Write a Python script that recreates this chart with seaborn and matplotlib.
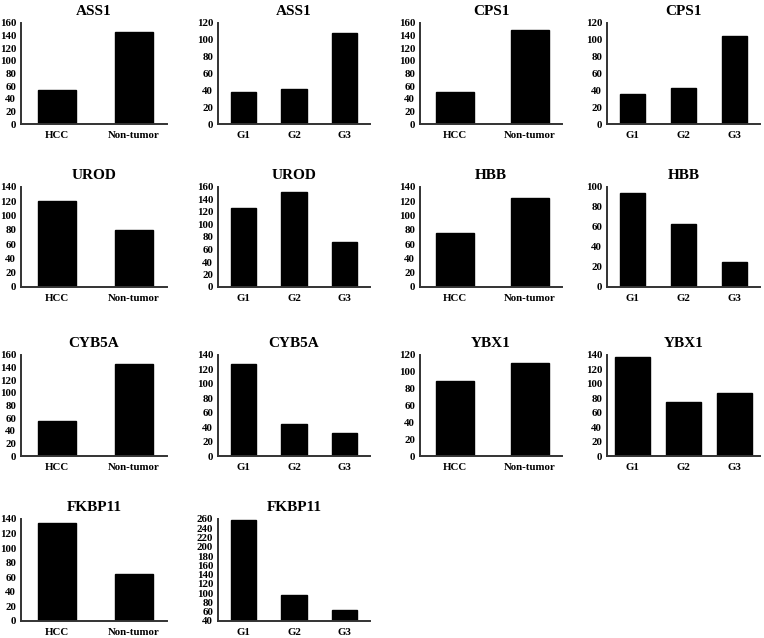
import matplotlib
matplotlib.use("Agg")
import matplotlib.pyplot as plt
import seaborn as sns
import pandas as pd

# chart data
genes = ["ASS1", "CPS1", "UROD", "HBB", "CYB5A", "YBX1", "FKBP11"]
tissue_labels = ["HCC", "Non-tumor"]
grade_labels = ["G1", "G2", "G3"]

ass1_tissue = [54, 146]
ass1_grade = [38, 41, 108]
cps1_tissue = [51, 149]
cps1_grade = [36, 43, 105]
urod_tissue = [120, 80]
urod_grade = [127, 152, 72]
hbb_tissue = [76, 124]
hbb_grade = [94, 63, 25]
cyb5a_tissue = [55, 145]
cyb5a_grade = [128, 44, 32]
ybx1_tissue = [89, 111]
ybx1_grade = [137, 75, 87]
fkbp11_tissue = [134, 65]
fkbp11_grade = [258, 96, 63]

# y-axis ranges (min, max, step) per panel
ylims = {
    ("ASS1", "t"): (0, 160, 20), ("ASS1", "g"): (0, 120, 20),
    ("CPS1", "t"): (0, 160, 20), ("CPS1", "g"): (0, 120, 20),
    ("UROD", "t"): (0, 140, 20), ("UROD", "g"): (0, 160, 20),
    ("HBB", "t"): (0, 140, 20), ("HBB", "g"): (0, 100, 20),
    ("CYB5A", "t"): (0, 160, 20), ("CYB5A", "g"): (0, 140, 20),
    ("YBX1", "t"): (0, 120, 20), ("YBX1", "g"): (0, 140, 20),
    ("FKBP11", "t"): (0, 140, 20), ("FKBP11", "g"): (40, 260, 20),
}

values = {
    "ASS1": (ass1_tissue, ass1_grade),
    "CPS1": (cps1_tissue, cps1_grade),
    "UROD": (urod_tissue, urod_grade),
    "HBB": (hbb_tissue, hbb_grade),
    "CYB5A": (cyb5a_tissue, cyb5a_grade),
    "YBX1": (ybx1_tissue, ybx1_grade),
    "FKBP11": (fkbp11_tissue, fkbp11_grade),
}

sns.set_style("white")
plt.rcParams["font.family"] = ["Liberation Serif", "DejaVu Serif"]
plt.rcParams["font.weight"] = "bold"
plt.rcParams["text.color"] = "black"

W, H = 764, 638
fig = plt.figure(figsize=(W / 100, H / 100), dpi=100)

# axes boxes in pixels: column x-ranges, row y-ranges
col_x = [(21, 167), (218, 370), (420, 562), (607, 760)]
row_y = [(23, 124), (187, 287), (355, 456), (519, 621)]

def draw_panel(ax, labels, vals, lim, title, width):
    df = pd.DataFrame({"group": labels, "value": vals})
    sns.barplot(data=df, x="group", y="value", color="black", width=width,
                saturation=1, edgecolor="black", ax=ax)
    lo, hi, step = lim
    ax.set_ylim(lo, hi)
    ax.set_yticks(range(lo, hi + 1, step))
    n = len(labels)
    if n == 2:
        ax.set_xlim(-0.47, 1.43)
    else:
        ax.set_xlim(-0.5, 2.5)
    ax.set_xlabel("")
    ax.set_ylabel("")
    ax.set_title(title, fontsize=11, fontweight="bold", pad=6, color="black")
    for s in ["top", "right"]:
        ax.spines[s].set_visible(False)
    for s in ["left", "bottom"]:
        ax.spines[s].set_color("#333333")
        ax.spines[s].set_linewidth(1.4)
    ax.tick_params(axis="y", length=3, width=1.2, pad=0.5, labelsize=7.8, colors="black")
    ax.tick_params(axis="x", length=0, pad=5, labelsize=7.8, colors="black")
    for lab in ax.get_xticklabels() + ax.get_yticklabels():
        lab.set_fontweight("bold")

for i, gene in enumerate(genes):
    row = i // 2
    col0 = (i % 2) * 2
    tissue, grade = values[gene]
    for k, (labels, vals, key) in enumerate([(tissue_labels, tissue, "t"),
                                             (grade_labels, grade, "g")]):
        x0, x1 = col_x[col0 + k]
        y0, y1 = row_y[row]
        ax = fig.add_axes([x0 / W, 1 - y1 / H, (x1 - x0) / W, (y1 - y0) / H])
        width = 0.68 if (gene == "YBX1" and key == "g") else 0.5
        draw_panel(ax, labels, vals, ylims[(gene, key)], gene, width)

fig.savefig("out.png", dpi=100)
